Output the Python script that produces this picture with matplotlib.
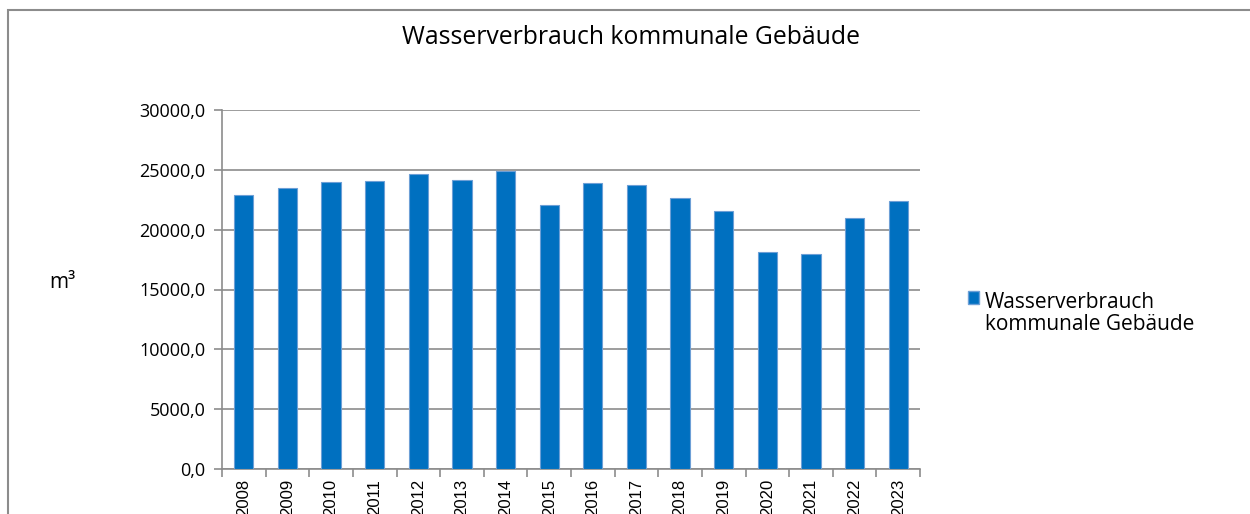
import matplotlib
matplotlib.use("Agg")
import matplotlib.pyplot as plt
import numpy as np
from matplotlib.patches import Rectangle, Patch

years = ["2008", "2009", "2010", "2011", "2012", "2013", "2014", "2015",
         "2016", "2017", "2018", "2019", "2020", "2021", "2022", "2023"]
values = [22900, 23450, 23950, 24050, 24690, 24130, 24940, 22030,
          23860, 23720, 22630, 21580, 18100, 17950, 20970, 22380]
yticks = [0, 5000, 10000, 15000, 20000, 25000, 30000]
ytick_labels = ["0,0", "5000,0", "10000,0", "15000,0", "20000,0", "25000,0", "30000,0"]
title = "Wasserverbrauch kommunale Gebäude"
series_label = "Wasserverbrauch\nkommunale Gebäude"

W, H = 1250, 514
fig = plt.figure(figsize=(W / 100, H / 100), dpi=100)

# outer chart frame
fig.patches.append(Rectangle((8 / W, -0.1), 1.2, (514 - 10) / H + 0.1,
                             transform=fig.transFigure, fill=False,
                             edgecolor="#8c8c8c", linewidth=1.5))

ax = fig.add_axes([222 / W, (H - 469) / H, (920 - 222) / W, (469 - 110) / H])
x = np.arange(len(years))
ax.bar(x, values, width=0.44, color="#0070C0", edgecolor="#6d9fd6",
       linewidth=0.8, zorder=3)
ax.set_xlim(-0.5, len(years) - 0.5)
ax.set_ylim(0, 30000)
ax.set_yticks(yticks)
ax.set_yticklabels(ytick_labels, fontfamily="Open Sans", fontsize=13)
ax.yaxis.grid(True, color="#8c8c8c", linewidth=1.2, zorder=0)
ax.set_xticks(x)
ax.set_xticklabels(years, rotation=90, fontfamily="Liberation Sans", fontsize=12)
ax.set_xticks(np.arange(-0.5, len(years) + 0.5, 1), minor=True)
ax.tick_params(axis="x", which="major", length=0, pad=7)
ax.tick_params(axis="x", which="minor", length=6, color="#8c8c8c", width=1.2)
ax.tick_params(axis="y", length=6, color="#8c8c8c", width=1.2, pad=6)
for s in ["top", "right"]:
    ax.spines[s].set_visible(False)
for s in ["left", "bottom"]:
    ax.spines[s].set_color("#8c8c8c")
    ax.spines[s].set_linewidth(1.2)

fig.text(631 / W, 1 - 37 / H, title, ha="center", va="center",
         fontfamily="Open Sans", fontsize=17.8)
fig.text(62 / W, 1 - 282 / H, "m³", ha="center", va="center",
         fontfamily="Open Sans", fontsize=15)

leg = fig.legend(handles=[Patch(facecolor="#0070C0", edgecolor="#6d9fd6")],
                 labels=[series_label], loc="center left",
                 bbox_to_anchor=(968 / W, 1 - 297 / H), frameon=False,
                 prop={"family": "Open Sans", "size": 15},
                 handlelength=0.55, handleheight=0.55, handletextpad=0.25,
                 borderaxespad=0, borderpad=0)
for t in leg.get_texts():
    t.set_va("center")
    t.set_linespacing(1.05)

fig.savefig("out.png", dpi=100)
